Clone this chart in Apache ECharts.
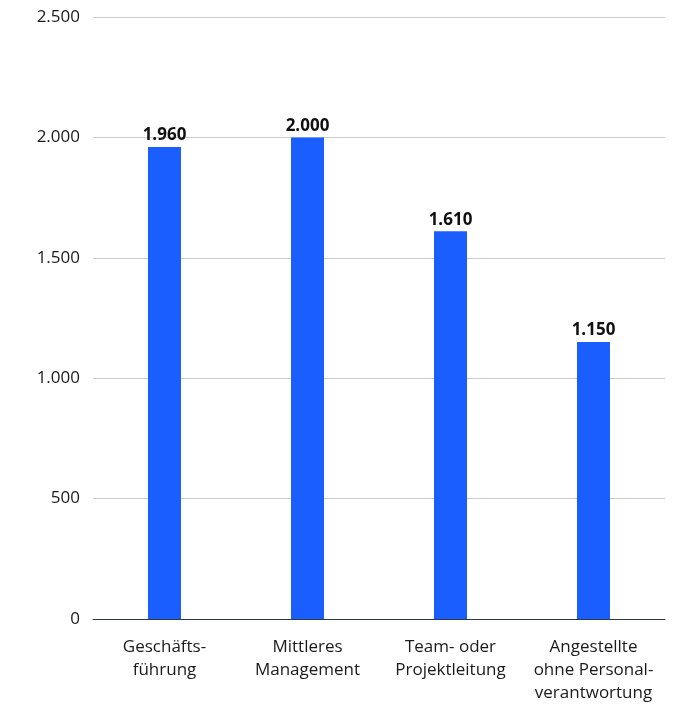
<!DOCTYPE html>
<html>
<head>
<meta charset="utf-8">
<script src="https://cdn.jsdelivr.net/npm/echarts@6/dist/echarts.min.js"></script>
<style>
  html, body { margin: 0; padding: 0; background: #fff; }
  #chart { width: 679px; height: 708px; }
</style>
</head>
<body>
<div id="chart"></div>
<script>
// Kategorien (Zeilenumbrüche wie im Original)
const categories = [
  'Geschäfts-\nführung',
  'Mittleres\nManagement',
  'Team- oder\nProjektleitung',
  'Angestellte\nohne Personal-\nverantwortung'
]
// Werte je Kategorie
const values = [1960, 2000, 1610, 1150]
// Achsenbereich
const yMin = 0
const yMax = 2500
const yStep = 500

// Zahl im deutschen Format (1.960)
const fmt = (v) => String(v).replace(/\B(?=(\d{3})+(?!\d))/g, '.')

const chart = echarts.init(document.getElementById('chart'))
const fontFamily = '"Open Sans", "Noto Sans", sans-serif'

chart.setOption({
  animation: false,
  textStyle: { fontFamily },
  grid: {
    left: 93,
    right: 14,
    top: 17,
    bottom: 89
  },
  xAxis: {
    type: 'category',
    data: categories,
    axisLine: { lineStyle: { color: '#2b3a42', width: 1 } },
    axisTick: { show: false },
    axisLabel: {
      color: '#1a1a1a',
      fontSize: 17,
      lineHeight: 23,
      margin: 17,
      interval: 0
    }
  },
  yAxis: {
    type: 'value',
    min: yMin,
    max: yMax,
    interval: yStep,
    axisLine: { show: false },
    axisTick: { show: false },
    splitLine: { lineStyle: { color: '#cccccc', width: 1 } },
    axisLabel: {
      color: '#1a1a1a',
      fontSize: 17,
      margin: 13,
      formatter: (v) => fmt(v)
    }
  },
  series: [
    {
      type: 'bar',
      data: values,
      barWidth: 33,
      itemStyle: { color: '#1a5eff' },
      label: {
        show: true,
        position: 'top',
        distance: 3,
        color: '#111',
        fontSize: 17,
        fontWeight: 'bold',
        formatter: (p) => fmt(p.value)
      }
    }
  ]
})
</script>
</body>
</html>
